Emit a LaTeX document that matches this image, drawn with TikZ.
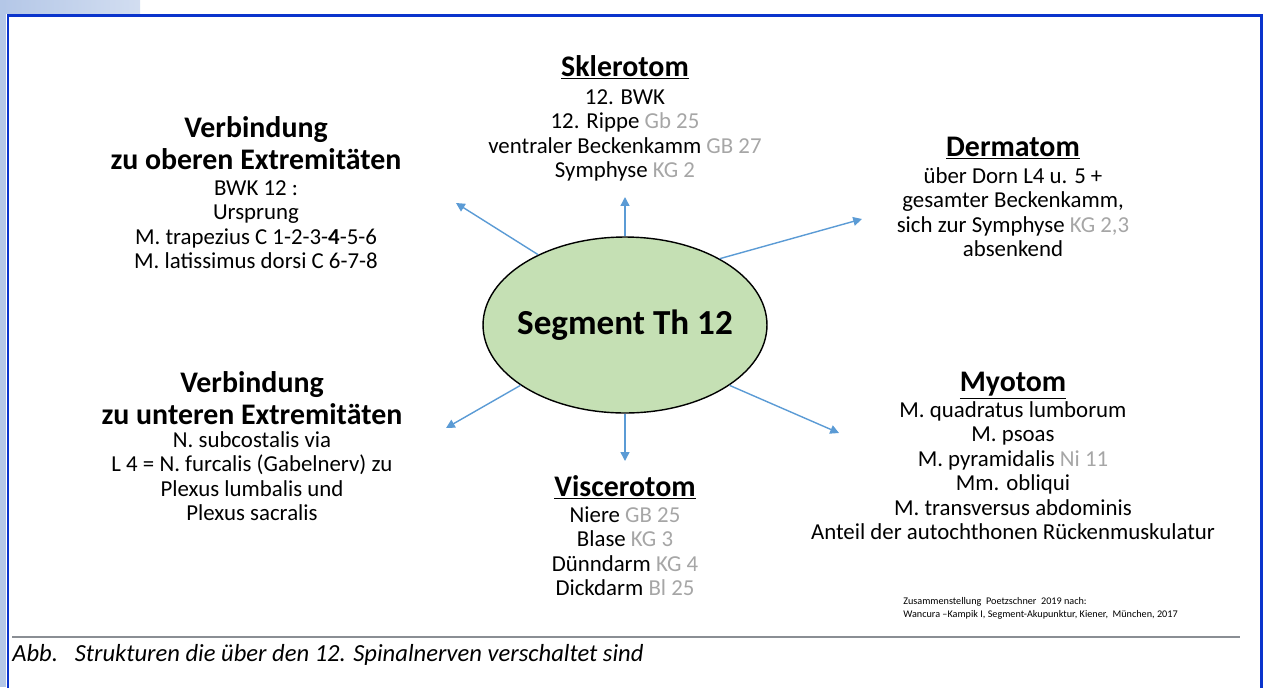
\documentclass[tikz,border=0pt]{standalone}
\usepackage{fontspec}
\setmainfont{Carlito}
\usetikzlibrary{arrows.meta,shapes,positioning}
\definecolor{segfill}{HTML}{C5E0B4}
\definecolor{spokeblue}{HTML}{5B9BD5}
\definecolor{frameblue}{HTML}{0A34CC}
\definecolor{stripblue}{HTML}{B4C7E7}
\definecolor{codegray}{HTML}{A6A6A6}
\definecolor{rulegray}{HTML}{8A8E94}
\newcommand{\kp}[1]{{\color{codegray}#1}}
\tikzstyle{segment}=[ellipse,draw,thick,fill=segfill,minimum width=5.68cm,minimum height=3.52cm,inner sep=0pt]
\tikzstyle{seglabel}=[inner sep=0pt,font=\fontsize{20}{24}\selectfont\bfseries]
\tikzstyle{heading}=[anchor=base,inner sep=0pt,align=center,font=\fontsize{17}{18.1}\selectfont\bfseries]
\tikzstyle{body}=[anchor=base,inner sep=0pt,align=center,font=\fontsize{13}{13.9}\selectfont]
\tikzstyle{spoke}=[draw,spokeblue,line width=0.8pt,-{Triangle[length=5pt,width=5pt]}]

\begin{document}
\begin{tikzpicture}[x=0.02cm,y=-0.02cm]
    \useasboundingbox (0,0) rectangle (1264,687);
    \clip (0,0) rectangle (1264,687);

    % slide frame
    \shade[left color=stripblue,right color=stripblue!60] (0,0) rectangle (140,13);
    \fill[stripblue] (0,0) rectangle (6,687);
    \draw[frameblue,line width=0.06cm] (8,700) |- (1261.5,15) -- (1261.5,700);

    \node[segment] (seg) at (625,325) {};
    \node[seglabel] (segname) at (seg.center) {Segment Th 12};

    % base = baseline of the last line
    \node[heading] (sklT) at (625,76) {\underline{Sklerotom}};
    \node[body] (sklB) at (625,177.5) {12. BWK\\12. Rippe \kp{Gb 25}\\ventraler Beckenkamm \kp{GB 27}\\Symphyse \kp{KG 2}};

    \node[heading] (obT) at (256,169) {Verbindung\\zu oberen Extremitäten};
    \node[body] (obB) at (256,268.5) {BWK 12 :\\Ursprung\\M. trapezius C 1-2-3-\textbf{4}-5-6\\M. latissimus dorsi C 6-7-8};

    \node[heading] (derT) at (1013,156) {\underline{Dermatom}};
    \node[body] (derB) at (1013,256.5) {über Dorn L4 u. 5 +\\gesamter Beckenkamm,\\sich zur Symphyse \kp{KG 2,3}\\absenkend};

    \node[heading] (unT) at (252,424) {Verbindung\\zu unteren Extremitäten};
    \node[body] (unB) at (252,520.5) {N. subcostalis via\\L 4 = N. furcalis (Gabelnerv) zu\\Plexus lumbalis und\\Plexus sacralis};

    \node[heading] (visT) at (625,496) {\underline{Viscerotom}};
    \node[body] (visB) at (625,595.5) {Niere \kp{GB 25}\\Blase \kp{KG 3}\\Dünndarm \kp{KG 4}\\Dickdarm \kp{Bl 25}};

    \node[heading] (myoT) at (1013,391) {\underline{Myotom}};
    \node[body] (myoB) at (1013,539.5) {M. quadratus lumborum\\M. psoas\\M. pyramidalis \kp{Ni 11}\\Mm. obliqui\\M. transversus abdominis\\Anteil der autochthonen Rückenmuskulatur};

    \node[anchor=base west,inner sep=0pt,align=left,font=\fontsize{5.8}{7.4}\selectfont] (src) at (903,617) {Zusammenstellung\ \ Poetzschner\ \ 2019 nach:\\Wancura --Kampik I, Segment-Akupunktur, Kiener,\ \ München, 2017};

    % spokes
    \coordinate (tipN) at (625,197);
    \coordinate (tipNW) at (456,203);
    \coordinate (tipNE) at (862,219);
    \coordinate (tipSW) at (446,428);
    \coordinate (tipS) at (625,461);
    \coordinate (tipSE) at (839,433);
    \foreach \ang/\tip in {90/tipN,141/tipNW,35/tipNE,210/tipSW,270/tipS,330/tipSE}
        \path[spoke] (seg.\ang) -- (\tip);

    % caption
    \draw[rulegray,line width=0.04cm] (12,637) -- (1240,637);
    \node[anchor=base west,inner sep=0pt,font=\fontsize{14}{16}\selectfont\itshape] (caption) at (12,661) {Abb.\ \ \ Strukturen die über den 12. Spinalnerven verschaltet sind};
\end{tikzpicture}
\end{document}
